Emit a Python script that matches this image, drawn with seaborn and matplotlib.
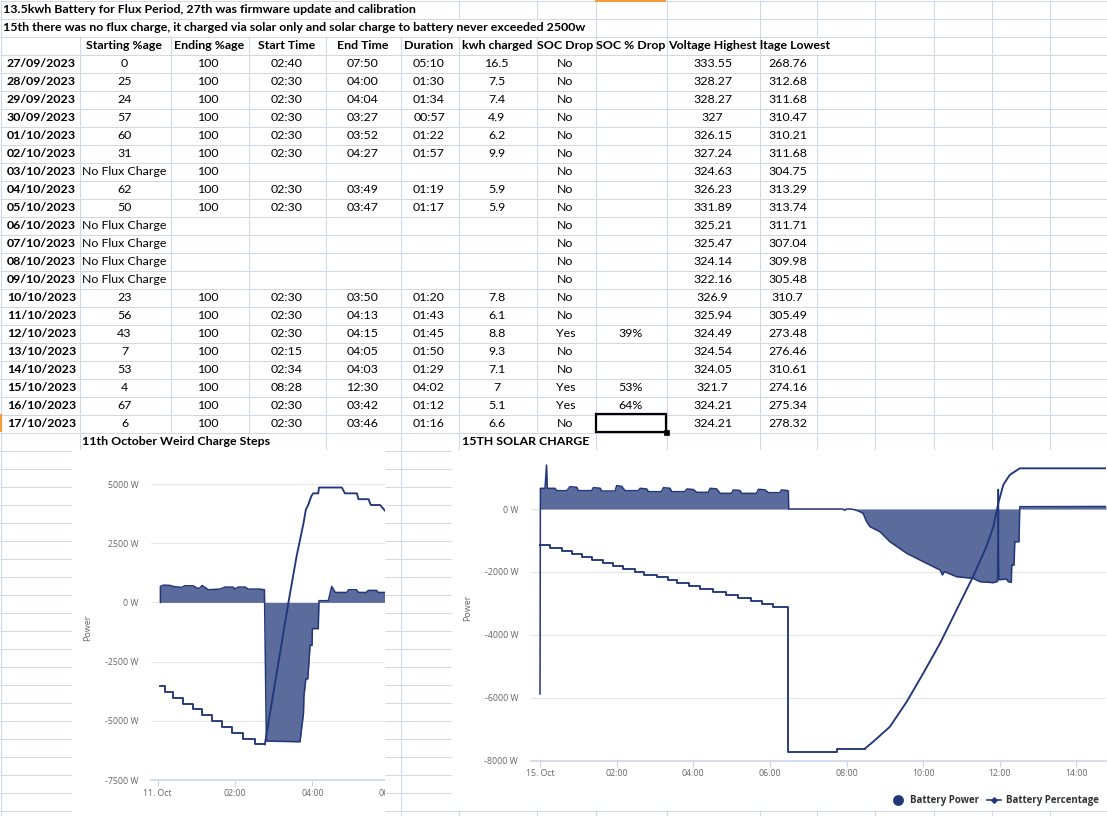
import numpy as np
import matplotlib
matplotlib.use("Agg")
import matplotlib.pyplot as plt
import seaborn as sns
from matplotlib.patches import Rectangle
from matplotlib.collections import LineCollection

W, H = 1107, 816

# ---------------- spreadsheet data ----------------
title1 = "13.5kwh Battery for Flux Period, 27th was firmware update and calibration"
title2 = "15th there was no flux charge, it charged via solar only and solar charge to battery never exceeded 2500w"
headers = ["", "Starting %age", "Ending %age", "Start Time", "End Time", "Duration",
           "kwh charged", "SOC Drop", "SOC % Drop", "Voltage Highest"]
header_last = "ltage Lowest"
dates = ["27/09/2023", "28/09/2023", "29/09/2023", "30/09/2023", "01/10/2023", "02/10/2023",
         "03/10/2023", "04/10/2023", "05/10/2023", "06/10/2023", "07/10/2023", "08/10/2023",
         "09/10/2023", "10/10/2023", "11/10/2023", "12/10/2023", "13/10/2023", "14/10/2023",
         "15/10/2023", "16/10/2023", "17/10/2023"]
NF = "No Flux Charge"
start_pct = ["0", "25", "24", "57", "60", "31", NF, "62", "50", NF, NF, NF, NF,
             "23", "56", "43", "7", "53", "4", "67", "6"]
end_pct = ["100", "100", "100", "100", "100", "100", "100", "100", "100", "", "", "", "",
           "100", "100", "100", "100", "100", "100", "100", "100"]
start_time = ["02:40", "02:30", "02:30", "02:30", "02:30", "02:30", "", "02:30", "02:30",
              "", "", "", "", "02:30", "02:30", "02:30", "02:15", "02:34", "08:28", "02:30", "02:30"]
end_time = ["07:50", "04:00", "04:04", "03:27", "03:52", "04:27", "", "03:49", "03:47",
            "", "", "", "", "03:50", "04:13", "04:15", "04:05", "04:03", "12:30", "03:42", "03:46"]
duration = ["05:10", "01:30", "01:34", "00:57", "01:22", "01:57", "", "01:19", "01:17",
            "", "", "", "", "01:20", "01:43", "01:45", "01:50", "01:29", "04:02", "01:12", "01:16"]
kwh = ["16.5", "7.5", "7.4", "4.9", "6.2", "9.9", "", "5.9", "5.9", "", "", "", "",
       "7.8", "6.1", "8.8", "9.3", "7.1", "7", "5.1", "6.6"]
soc_drop = ["No"] * 15 + ["Yes", "No", "No", "Yes", "Yes", "No"]
soc_pct = [""] * 15 + ["39%", "", "", "53%", "64%", ""]
v_high = ["333.55", "328.27", "328.27", "327", "326.15", "327.24", "324.63", "326.23", "331.89",
          "325.21", "325.47", "324.14", "322.16", "326.9", "325.94", "324.49", "324.54", "324.05",
          "321.7", "324.21", "324.21"]
v_low = ["268.76", "312.68", "311.68", "310.47", "310.21", "311.68", "304.75", "313.29", "313.74",
         "311.71", "307.04", "309.98", "305.48", "310.7", "305.49", "273.48", "276.46", "310.61",
         "274.16", "275.34", "278.32"]
chart1_title = "11th October Weird Charge Steps"
chart2_title = "15TH SOLAR CHARGE"

# ---------------- chart 1 (11 Oct) data: hours since midnight ----------------
c1_pow_t = [0.07, 0.07, 0.15, 0.32, 0.40, 0.62, 0.70, 0.92, 1.01, 1.09, 1.15, 1.31, 1.61, 1.74, 1.95,
            2.00, 2.08, 2.26, 2.34, 2.64, 2.76, 2.81, 3.68, 3.77, 3.78, 3.83, 3.88, 3.94, 3.99, 4.00,
            4.15, 4.17, 4.41, 4.50, 4.59, 4.89, 4.93, 5.14, 5.19, 5.40, 5.44, 5.66, 5.70, 5.95]
c1_pow_w = [0, 674, 730, 716, 674, 632, 702, 702, 604, 604, 716, 534, 562, 646, 646,
            562, 646, 646, 562, 562, 534, -5857, -5885, -4662, -3961, -3230, -3230, -1812, -1812, -1108,
            -1108, 72, 72, 674, 421, 421, 534, 534, 421, 421, 506, 506, 421, 421]
c1_pct_step_t = [0.07, 0.19, 0.40, 0.66, 0.92, 1.14, 1.40, 1.66, 1.91, 2.21, 2.52, 2.77]
c1_pct_step_v = [66, 65, 64, 63, 62, 61, 60, 59, 58, 57, 56, 56]
c1_pct_curve_t = [2.77, 2.82, 3.38, 3.59, 3.77, 3.83, 3.89, 3.97, 4.02, 4.15, 4.17, 4.76, 4.84,
                  5.15, 5.19, 5.45, 5.51, 5.75, 5.88, 5.95]
c1_pct_curve_v = [56, 58, 80.3, 88.2, 93.9, 96.2, 97, 98.5, 99, 99, 100, 100, 99,
                  99, 98, 98, 97, 97, 96, 96]
c1_yticks = [-7500, -5000, -2500, 0, 2500, 5000]
c1_ylabels = ["-7500 W", "-5000 W", "-2500 W", "0 W", "2500 W", "5000 W"]
c1_xticks = [0, 2, 4, 6]
c1_xlabels = ["11. Oct", "02:00", "04:00", "06:00"]

# ---------------- chart 2 (15 Oct) data ----------------
c2_pow_t = [0.00, 0.01, 0.13, 0.17, 0.19, 0.39, 0.44, 0.70, 0.78, 0.96,
            1.00, 1.35, 1.39, 1.57, 1.61, 1.96, 2.00, 2.13, 2.22, 2.57,
            2.61, 2.78, 2.83, 3.17, 3.22, 3.39, 3.44, 3.78, 3.83, 4.00,
            4.09, 4.39, 4.44, 4.61, 4.70, 5.00, 5.04, 5.22, 5.26, 5.65,
            5.70, 5.87, 5.96, 6.26, 6.30, 6.44, 6.48, 6.49, 7.90, 7.95,
            8.00, 8.09, 8.20, 8.30, 8.43, 8.52, 8.61, 8.87, 9.13, 9.57,
            10.00, 10.44, 10.50, 10.55, 10.87, 11.30, 11.48, 11.83, 11.94, 11.96,
            11.98, 12.17, 12.22, 12.30, 12.31, 12.37, 12.39, 12.50, 12.52, 14.77]
c2_pow_w = [-5880, 657, 657, 1399, 657, 657, 583, 583, 710, 690,
            583, 583, 678, 660, 572, 572, 742, 720, 583, 583,
            657, 640, 551, 551, 678, 660, 551, 551, 636, 620,
            530, 530, 657, 640, 498, 498, 604, 590, 498, 498,
            625, 610, 519, 519, 604, 590, 572, 0, 0, -40,
            0, 0, -20, -60, -137, -400, -562, -722, -1040, -1409,
            -1675, -1939, -2098, -1990, -2152, -2204, -2310, -2342, -2300, 626,
            -2250, -2225, -2310, -2330, -1780, -1780, -1040, -1040, 74, 80]
c2_pct_step_t = [0.00, 0.26, 0.57, 0.83, 1.09, 1.35, 1.64, 1.90, 2.17, 2.48, 2.71, 3.04, 3.35,
                 3.58, 3.90, 4.17, 4.52, 4.85, 5.17, 5.50, 5.78, 6.09, 6.48, 7.76, 8.48]
c2_pct_step_v = [74, 73, 72, 71, 70, 69, 68, 67, 66, 65, 64, 63, 62,
                 61, 60, 59, 58, 57, 56, 55, 54, 53, 4, 5, 5]
c2_pct_curve_t = [8.48, 8.70, 9.13, 9.57, 10.00, 10.44, 10.87, 11.30, 11.65, 11.83, 11.96,
                  12.09, 12.26, 12.39, 12.52, 14.77]
c2_pct_curve_v = [5, 7.4, 12.4, 20.9, 30.5, 40.7, 52.0, 63.3, 73.5, 80.2, 88.2,
                  94.4, 97.8, 98.9, 100, 100]
c2_yticks = [-8000, -6000, -4000, -2000, 0]
c2_ylabels = ["-8000 W", "-6000 W", "-4000 W", "-2000 W", "0 W"]
c2_xticks = [0, 2, 4, 6, 8, 10, 12, 14]
c2_xlabels = ["15. Oct", "02:00", "04:00", "06:00", "08:00", "10:00", "12:00", "14:00"]
legend_labels = ["Battery Power", "Battery Percentage"]

# ---------------- styling ----------------
SHEET_FONT = ["Lato", "DejaVu Sans"]
CHART_FONT = ["Open Sans", "DejaVu Sans"]
plt.rcParams["font.family"] = SHEET_FONT
GRID = "#d0d7e5"
LINE = "#22377a"
FILL = "#5a6b9c"
HC_GRID = "#e6e6e6"
HC_AXIS = "#ccd6eb"
HC_TXT = "#666666"
FS = 8.9

fig = plt.figure(figsize=(W / 100, H / 100), dpi=100)
fig.patch.set_facecolor("white")


def px_axes(x0, y0, x1, y1, z):
    return fig.add_axes([x0 / W, 1 - y1 / H, (x1 - x0) / W, (y1 - y0) / H], zorder=z)


sheet = px_axes(0, 0, W, H, 0)
sheet.set_xlim(0, W)
sheet.set_ylim(H, 0)
sheet.axis("off")

col_edges = [0, 79, 170, 248, 325, 400, 458, 536, 595, 666, 759, 816, 874, 933, 991, 1049, 1107]
RH = 18
n_rows = 46
hidden = {0: {79, 170, 248, 325, 400}, 1: {79, 170, 248, 325, 400, 458, 536},
          2: {816}, 24: {170, 248, 536}}
segs = []
for r in range(n_rows):
    for c in col_edges[:-1]:
        if c in hidden.get(r, set()):
            continue
        xx = c + 0.5
        segs.append([(xx, r * RH), (xx, (r + 1) * RH)])
for r in range(n_rows + 1):
    segs.append([(0, r * RH + 0.5), (W, r * RH + 0.5)])
sheet.add_collection(LineCollection(segs, colors=GRID, linewidths=0.75, zorder=1))

# orange selection markers
sheet.plot([595, 666], [1, 1], color="#f39c3c", lw=1.5, zorder=3, solid_capstyle="butt")
sheet.plot([1, 1], [414, 432], color="#f39c3c", lw=1.5, zorder=3, solid_capstyle="butt")


def cell_text(row, col, s, bold=False, ha="center"):
    x0, x1 = col_edges[col], col_edges[col + 1]
    yc = row * RH + 9.8
    if ha == "center":
        x = (x0 + x1) / 2
    elif ha == "right":
        x = x1 - 3
    else:
        x = x0 + 3
    sheet.text(x, yc, s, ha=ha, va="center", fontsize=FS,
               fontweight="bold" if bold else "normal", color="black", zorder=4)


sheet.text(3, 9.8, title1, ha="left", va="center", fontsize=FS, fontweight="bold", zorder=4)
sheet.text(3, 27.8, title2, ha="left", va="center", fontsize=FS, fontweight="bold", zorder=4)
for j, h in enumerate(headers):
    if h:
        cell_text(2, j, h, bold=True)
sheet.text(760, 2 * RH + 9.8, header_last, ha="left", va="center", fontsize=FS,
           fontweight="bold", zorder=4)

columns = [start_pct, end_pct, start_time, end_time, duration, kwh, soc_drop, soc_pct, v_high, v_low]
for i, d in enumerate(dates):
    r = 3 + i
    cell_text(r, 0, d, bold=True, ha="right")
    for j, col in enumerate(columns):
        if col[i]:
            cell_text(r, j + 1, col[i])

# selected cell
sheet.add_patch(Rectangle((595.5, 414), 70.5, 18, fill=False, ec="black", lw=1.6, zorder=4))
sheet.add_patch(Rectangle((663.5, 429.5), 5, 5, fc="black", ec="black", lw=0.5, zorder=4))

# chart titles in the sheet
sheet.text(82, 24 * RH + 9.8, chart1_title, ha="left", va="center", fontsize=FS,
           fontweight="bold", zorder=4)
sheet.text(462, 24 * RH + 9.8, chart2_title, ha="left", va="center", fontsize=FS,
           fontweight="bold", zorder=4)

# chart image backgrounds
sheet.add_patch(Rectangle((72, 450), 313, 366, fc="white", ec="none", zorder=5))
sheet.add_patch(Rectangle((451, 450), 656, 360, fc="white", ec="none", zorder=5))


def style_chart(ax, yt, yl, xt, xl, ylab_xy):
    ax.set_facecolor("none")
    for s in ["top", "right", "left"]:
        ax.spines[s].set_visible(False)
    ax.spines["bottom"].set_color(HC_AXIS)
    ax.spines["bottom"].set_linewidth(1.2)
    ax.set_yticks(yt)
    ax.set_yticklabels(yl, fontfamily=CHART_FONT, fontsize=6.3, color=HC_TXT)
    ax.set_xticks(xt)
    ax.set_xticklabels(xl, fontfamily=CHART_FONT, fontsize=6.3, color=HC_TXT)
    ax.tick_params(axis="y", length=0, pad=9.0)
    ax.tick_params(axis="x", length=4.3, width=0.8, color=HC_AXIS, pad=2.0)
    ax.grid(axis="y", color=HC_GRID, lw=0.8)
    ax.grid(axis="x", visible=False)
    ax.set_axisbelow(True)
    ax.set_xlabel("")
    ax.set_ylabel("Power", fontfamily=CHART_FONT, fontsize=6.5, color=HC_TXT)
    ax.yaxis.set_label_coords(*ylab_xy)


def draw_chart(ax, pow_t, pow_w, st, sv, ct, cv, pct_lim):
    ax.fill_between(pow_t, pow_w, 0, color=FILL, lw=0, zorder=2)
    sns.lineplot(x=pow_t, y=pow_w, ax=ax, color=LINE, lw=1.1, estimator=None,
                 sort=False, legend=False, zorder=3)
    axb = ax.twinx()
    axb.set_ylim(*pct_lim)
    sns.lineplot(x=st, y=sv, ax=axb, color=LINE, lw=1.35, estimator=None, sort=False,
                 legend=False, drawstyle="steps-post")
    sns.lineplot(x=ct, y=cv, ax=axb, color=LINE, lw=1.35, estimator=None, sort=False,
                 legend=False)
    axb.set_ylim(*pct_lim)
    axb.axis("off")
    return axb


# chart 1: plot area x 151..401 px, y 484..780 px
ax1 = px_axes(151, 484, 401, 780, 2)
draw_chart(ax1, c1_pow_t, c1_pow_w, c1_pct_step_t, c1_pct_step_v,
           c1_pct_curve_t, c1_pct_curve_v, (49.9, 100.6))
ax1.set_xlim(-0.173, 6.29)
ax1.set_ylim(-7500, 5000)
style_chart(ax1, c1_yticks, c1_ylabels, c1_xticks, c1_xlabels, (-0.237, 0.514))

# chart 2: plot area x 530.7..1106 px, y 458..760.7 px
ax2 = px_axes(530.7, 458, 1106, 760.7, 2)
draw_chart(ax2, c2_pow_t, c2_pow_w, c2_pct_step_t, c2_pct_step_v,
           c2_pct_curve_t, c2_pct_curve_v, (0.9, 103.5))
ax2.set_xlim(-0.243, 14.77)
ax2.set_ylim(-8000, 1621)
style_chart(ax2, c2_yticks, c2_ylabels, c2_xticks, c2_xlabels, (-0.1026, 0.5045))

# overlay: sheet gutter between the two chart images + legend
over = px_axes(0, 0, W, H, 10)
over.set_xlim(0, W)
over.set_ylim(H, 0)
over.axis("off")
over.add_patch(Rectangle((385, 450), 66, 366, fc="white", ec="none", zorder=1))
gsegs = [[(385, r * RH + 0.5), (451, r * RH + 0.5)] for r in range(25, n_rows + 1)]
gsegs.append([(400.5, 450), (400.5, H)])
over.add_collection(LineCollection(gsegs, colors=GRID, linewidths=0.75, zorder=2))

over.plot([898], [800], marker="o", ms=6.8, color=LINE, zorder=3)
over.text(910, 800.5, legend_labels[0], ha="left", va="center", fontsize=7,
          fontweight="bold", color="#333333", fontfamily=CHART_FONT, zorder=3)
over.plot([987, 1001], [800, 800], color=LINE, lw=1.2, zorder=3)
over.plot([994], [800], marker="D", ms=2.8, color=LINE, zorder=3)
over.text(1006, 800.5, legend_labels[1], ha="left", va="center", fontsize=7,
          fontweight="bold", color="#333333", fontfamily=CHART_FONT, zorder=3)

fig.savefig("out.png", dpi=100)
